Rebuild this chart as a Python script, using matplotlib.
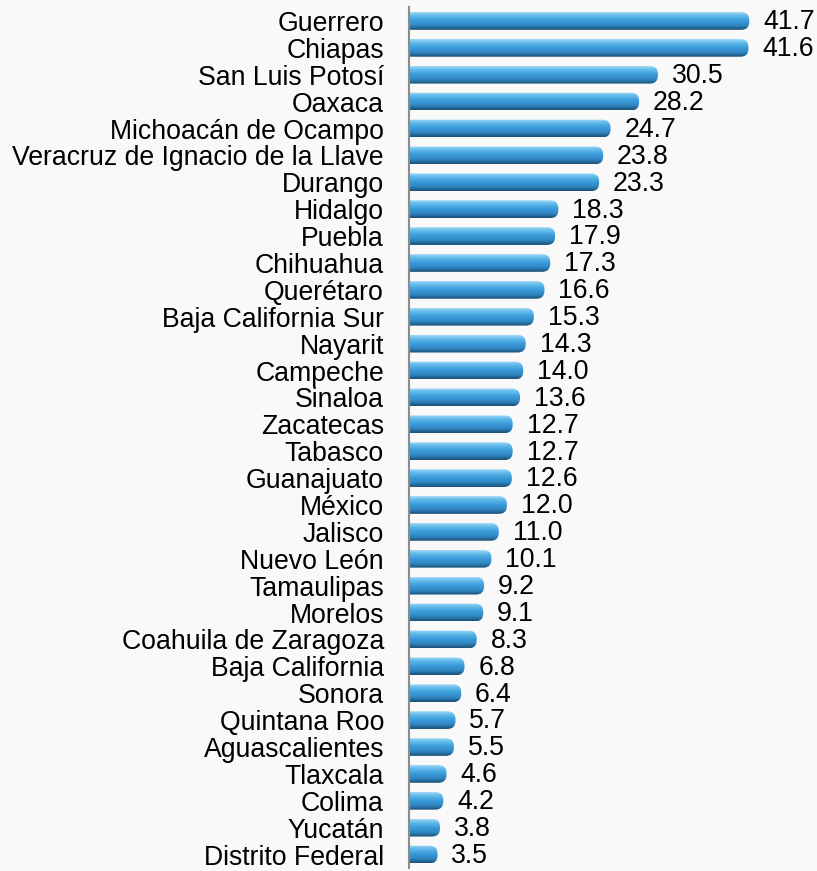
import numpy as np
import matplotlib.pyplot as plt
from matplotlib.patches import FancyBboxPatch
from matplotlib.colors import LinearSegmentedColormap

plt.rcParams['font.family'] = ['Liberation Sans', 'DejaVu Sans']

# Data
states = ['Guerrero', 'Chiapas', 'San Luis Potosí', 'Oaxaca', 'Michoacán de Ocampo',
          'Veracruz de Ignacio de la Llave', 'Durango', 'Hidalgo', 'Puebla', 'Chihuahua',
          'Querétaro', 'Baja California Sur', 'Nayarit', 'Campeche', 'Sinaloa',
          'Zacatecas', 'Tabasco', 'Guanajuato', 'México', 'Jalisco', 'Nuevo León',
          'Tamaulipas', 'Morelos', 'Coahuila de Zaragoza', 'Baja California', 'Sonora',
          'Quintana Roo', 'Aguascalientes', 'Tlaxcala', 'Colima', 'Yucatán',
          'Distrito Federal']
values = [41.7, 41.6, 30.5, 28.2, 24.7, 23.8, 23.3, 18.3, 17.9, 17.3, 16.6, 15.3,
          14.3, 14.0, 13.6, 12.7, 12.7, 12.6, 12.0, 11.0, 10.1, 9.2, 9.1, 8.3, 6.8,
          6.4, 5.7, 5.5, 4.6, 4.2, 3.8, 3.5]

fig = plt.figure(figsize=(8.17, 8.71), dpi=100)
fig.patch.set_facecolor('#f9f9f9')
ax = fig.add_axes([409/817, 3/871, 1 - 409/817, 1 - 10.5/871])
ax.set_facecolor('none')

xmax = 50.0
n = len(states)
ax.set_xlim(0, xmax)
ax.set_ylim(n - 0.5, -0.5)

# gradient colours for the cylinder look
cmap = LinearSegmentedColormap.from_list('cyl', [
    (0.0, '#a9dcf7'), (0.15, '#6cc0ee'), (0.45, '#3c9edb'),
    (0.75, '#2f86c2'), (1.0, '#1b4f74')])
grad = np.linspace(0, 1, 64).reshape(-1, 1)

h = 0.66
px_x = (817 - 409) / xmax
px_y = 26.9
r_px = 8.0
r = r_px / px_x
for i, v in enumerate(values):
    patch = FancyBboxPatch((-2, i - h / 2), v + 2, h,
                           boxstyle='round,pad=0,rounding_size=%f' % r,
                           mutation_aspect=px_x / px_y,
                           facecolor='none', edgecolor='none')
    ax.add_patch(patch)
    im = ax.imshow(grad, cmap=cmap, aspect='auto', interpolation='bicubic',
                   extent=(0, v, i + h / 2, i - h / 2), origin='upper', zorder=2)
    im.set_clip_path(patch)
    ax.annotate('%.1f' % v, (v, i), xytext=(10, -1), textcoords='offset points',
                ha='left', va='center', fontsize=19.2, color='black',
                annotation_clip=False)

ax.set_xlim(0, xmax)
ax.set_ylim(n - 0.5, -0.5)

ax.set_yticks(range(n))
ax.set_yticklabels(states, fontsize=19.2)
ax.tick_params(axis='y', length=0, pad=18)
ax.set_xticks([])
for s in ['top', 'right', 'bottom']:
    ax.spines[s].set_visible(False)
ax.spines['left'].set_color('#8c8c8c')
ax.spines['left'].set_linewidth(1.5)

fig.savefig('out.png', dpi=100, facecolor=fig.get_facecolor())
